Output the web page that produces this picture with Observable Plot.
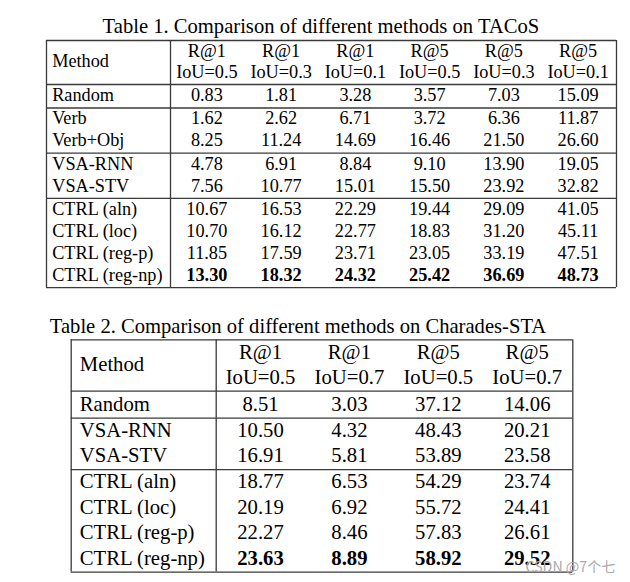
<!DOCTYPE html>
<html><head><meta charset="utf-8">
<script src="https://cdn.jsdelivr.net/npm/d3@7"></script>
<script src="https://cdn.jsdelivr.net/npm/@observablehq/plot@0.6"></script>
<style>html,body{margin:0;padding:0;background:#fff;}</style>
</head><body><div id="chart"></div>
<script>
// ---------- data ----------
const t1Title = "Table 1. Comparison of different methods on TACoS";
const t1Metrics = ["R@1", "R@1", "R@1", "R@5", "R@5", "R@5"];
const t1IoU = ["IoU=0.5", "IoU=0.3", "IoU=0.1", "IoU=0.5", "IoU=0.3", "IoU=0.1"];
const t1Methods = ["Random", "Verb", "Verb+Obj", "VSA-RNN", "VSA-STV", "CTRL (aln)", "CTRL (loc)", "CTRL (reg-p)", "CTRL (reg-np)"];
const t1Groups = [0, 1, 1, 2, 2, 3, 3, 3, 3];
const t1Values = [
  [0.83, 1.81, 3.28, 3.57, 7.03, 15.09],
  [1.62, 2.62, 6.71, 3.72, 6.36, 11.87],
  [8.25, 11.24, 14.69, 16.46, 21.50, 26.60],
  [4.78, 6.91, 8.84, 9.10, 13.90, 19.05],
  [7.56, 10.77, 15.01, 15.50, 23.92, 32.82],
  [10.67, 16.53, 22.29, 19.44, 29.09, 41.05],
  [10.70, 16.12, 22.77, 18.83, 31.20, 45.11],
  [11.85, 17.59, 23.71, 23.05, 33.19, 47.51],
  [13.30, 18.32, 24.32, 25.42, 36.69, 48.73]
];

const t2Title = "Table 2. Comparison of different methods on Charades-STA";
const t2Metrics = ["R@1", "R@1", "R@5", "R@5"];
const t2IoU = ["IoU=0.5", "IoU=0.7", "IoU=0.5", "IoU=0.7"];
const t2Methods = ["Random", "VSA-RNN", "VSA-STV", "CTRL (aln)", "CTRL (loc)", "CTRL (reg-p)", "CTRL (reg-np)"];
const t2Groups = [0, 1, 1, 2, 2, 2, 2];
const t2Values = [
  [8.51, 3.03, 37.12, 14.06],
  [10.50, 4.32, 48.43, 20.21],
  [16.91, 5.81, 53.89, 23.58],
  [18.77, 6.53, 54.29, 23.74],
  [20.19, 6.92, 55.72, 24.41],
  [22.27, 8.46, 57.83, 26.61],
  [23.63, 8.89, 58.92, 29.52]
];
const methodHeader = "Method";
const watermark = "CSDN @7个七";

// ---------- layout ----------
const W = 630, H = 582;
const serif = "Liberation Serif, Times New Roman, serif";
const L1 = {title: t1Title, metrics: t1Metrics, iou: t1IoU, methods: t1Methods, groups: t1Groups, values: t1Values,
  font: 18.25, titleSize: 20.6, titleX: 320.4, titleY: 32.3,
  left: 46, sep: 170, right: 616, top: 40, headBottom: 84,
  head1Y: 56, head2Y: 77.3, methodY: 66.7, methodX: 51.7,
  colX0: 206.4, colStep: 74.25, rowY0: 100.7, rowH: 22, gap: 1.2, below: 6.8};
const L2 = {title: t2Title, metrics: t2Metrics, iou: t2IoU, methods: t2Methods, groups: t2Groups, values: t2Values,
  font: 20.7, titleSize: 20.6, titleX: 297.5, titleY: 332.3,
  left: 70.7, sep: 215.7, right: 572.3, top: 339.3, headBottom: 390.7,
  head1Y: 358.3, head2Y: 383.3, methodY: 370, methodX: 79.3,
  colX0: 260, colStep: 88.9, rowY0: 410, rowH: 25.4, gap: 0.8, below: 7.6};

const lineColor = "#3a3a3a", lineW = 1.3;

function tableMarks(L) {
  const colX = j => L.colX0 + j * L.colStep;
  const rowY = i => L.rowY0 + i * L.rowH + L.groups[i] * L.gap;
  const n = L.methods.length;
  const maxes = L.metrics.map((_, j) => d3.max(L.values, r => r[j]));
  const cells = L.values.flatMap((r, i) => r.map((v, j) => ({i, j, v, bold: v === maxes[j]})));
  const headers = L.metrics.map((m, j) => ({j, m, iou: L.iou[j]}));
  const hLines = [L.top, L.headBottom];
  for (let i = 0; i < n - 1; i++) if (L.groups[i] !== L.groups[i + 1]) hLines.push(rowY(i) + L.below);
  const bottom = rowY(n - 1) + L.below;
  hLines.push(bottom);
  const vLines = [L.left, L.sep, L.right];
  const txt = {fontFamily: serif, fontSize: L.font, fill: "black", lineAnchor: "bottom"};
  return [
    Plot.text([L.title], {x: () => L.titleX, y: () => L.titleY, text: d => d, fontFamily: serif, fontSize: L.titleSize, fill: "black", lineAnchor: "bottom", textAnchor: "middle"}),
    Plot.ruleY(hLines, {y: d => d, x1: L.left, x2: L.right, stroke: lineColor, strokeWidth: lineW}),
    Plot.ruleX(vLines, {x: d => d, y1: L.top, y2: bottom, stroke: lineColor, strokeWidth: lineW}),
    Plot.text([methodHeader], {...txt, x: () => L.methodX, y: () => L.methodY, text: d => d, textAnchor: "start"}),
    Plot.text(headers, {...txt, x: d => colX(d.j), y: () => L.head1Y, text: "m", textAnchor: "middle"}),
    Plot.text(headers, {...txt, x: d => colX(d.j), y: () => L.head2Y, text: "iou", textAnchor: "middle"}),
    Plot.text(L.methods, {...txt, x: () => L.methodX, y: (d, i) => rowY(i), text: d => d, textAnchor: "start"}),
    Plot.text(cells.filter(c => !c.bold), {...txt, x: d => colX(d.j), y: d => rowY(d.i), text: d => d.v.toFixed(2), textAnchor: "middle"}),
    Plot.text(cells.filter(c => c.bold), {...txt, x: d => colX(d.j), y: d => rowY(d.i), text: d => d.v.toFixed(2), textAnchor: "middle", fontWeight: "bold"})
  ];
}

const chart = Plot.plot({
  width: W, height: H, margin: 0,
  x: {domain: [0, W], range: [0, W], axis: null},
  y: {domain: [0, H], range: [0, H], axis: null},
  style: {background: "white"},
  marks: [
    ...tableMarks(L1),
    ...tableMarks(L2),
    Plot.text([watermark], {x: () => 615, y: () => 571, text: d => d, textAnchor: "end", lineAnchor: "bottom",
      fontFamily: "Noto Sans CJK SC, sans-serif", fontSize: 14.2, fill: "#ababab"})
  ]
});
document.getElementById("chart").appendChild(chart);
</script>
</body></html>
